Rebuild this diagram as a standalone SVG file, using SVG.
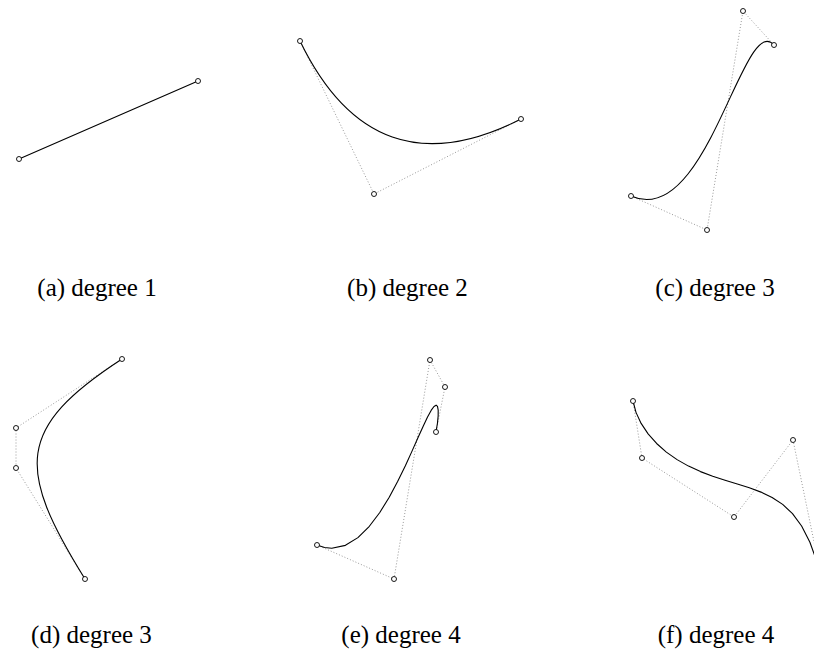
<svg xmlns="http://www.w3.org/2000/svg" width="814" height="652" viewBox="0 0 814 652">
<style>
.curve{fill:none;stroke:#000;stroke-width:1.1;stroke-linejoin:round;stroke-linecap:round}
.ctrl{fill:none;stroke:#999;stroke-width:1;stroke-dasharray:1 2}
.pt{fill:#fff;stroke:#000;stroke-width:0.9}
.lbl{font-family:"Liberation Serif","DejaVu Serif",serif;font-size:25px;fill:#000;text-anchor:middle;font-variant-numeric:oldstyle-nums}
</style>
<rect width="814" height="652" fill="#fff"/>
<g id="panel-a">
<line class="curve" x1="19" y1="159" x2="198" y2="81"/>
<circle class="pt" cx="19" cy="159" r="2.5"/>
<circle class="pt" cx="198" cy="81" r="2.5"/>
<text class="lbl" x="97" y="296">(a) degree 1</text>
</g>
<g id="panel-b">
<polyline class="ctrl" points="300,41 374,194 521,119"/>
<path class="curve" d="M300,41 Q374,194 521,119"/>
<circle class="pt" cx="300" cy="41" r="2.5"/>
<circle class="pt" cx="374" cy="194" r="2.5"/>
<circle class="pt" cx="521" cy="119" r="2.5"/>
<text class="lbl" x="407.5" y="296">(b) degree 2</text>
</g>
<g id="panel-c">
<polyline class="ctrl" points="631,196 707,230 743,11 774,45"/>
<path class="curve" d="M631,196 C707,230 743,11 774,45"/>
<circle class="pt" cx="631" cy="196" r="2.5"/>
<circle class="pt" cx="707" cy="230" r="2.5"/>
<circle class="pt" cx="743" cy="11" r="2.5"/>
<circle class="pt" cx="774" cy="45" r="2.5"/>
<text class="lbl" x="715" y="296">(c) degree 3</text>
</g>
<g id="panel-d">
<polyline class="ctrl" points="122,359 16,428 16,468 85,579"/>
<path class="curve" d="M122,359 C16,428 16,468 85,579"/>
<circle class="pt" cx="122" cy="359" r="2.5"/>
<circle class="pt" cx="16" cy="428" r="2.5"/>
<circle class="pt" cx="16" cy="468" r="2.5"/>
<circle class="pt" cx="85" cy="579" r="2.5"/>
<text class="lbl" x="91.5" y="643">(d) degree 3</text>
</g>
<g id="panel-e">
<polyline class="ctrl" points="317,545 394,579 430,360 445,387 436,432"/>
<polyline class="curve" points="317,545 324.55,547.48 331.79,548.25 345.42,545.34 357.92,537.61 369.36,526.28 379.79,512.47 389.23,497.18 397.75,481.31 405.37,465.65 412.13,450.88 418.06,437.56 423.19,426.16 427.54,417.04 431.13,410.42 433.98,406.46 436.10,405.16 437.50,406.45 438.19,410.14 438.17,415.92 437.44,423.28 436,432"/>
<circle class="pt" cx="317" cy="545" r="2.5"/>
<circle class="pt" cx="394" cy="579" r="2.5"/>
<circle class="pt" cx="430" cy="360" r="2.5"/>
<circle class="pt" cx="445" cy="387" r="2.5"/>
<circle class="pt" cx="436" cy="432" r="2.5"/>
<text class="lbl" x="401" y="643">(e) degree 4</text>
</g>
<g id="panel-f">
<polyline class="ctrl" points="633,401 642,458 734,517 793,440 824,590"/>
<polyline class="curve" points="633,401 635.99,412.36 641.13,423.42 648.10,433.86 656.60,443.47 666.35,452.08 677.07,459.63 688.53,466.12 700.48,471.62 712.73,476.27 725.06,480.31 737.32,484.04 749.34,487.82 761.00,492.11 772.12,497.43 782.66,504.40 792.51,513.67 801.61,525.99 809.91,542.22 817.38,563.23 824,590"/>
<circle class="pt" cx="633" cy="401" r="2.5"/>
<circle class="pt" cx="642" cy="458" r="2.5"/>
<circle class="pt" cx="734" cy="517" r="2.5"/>
<circle class="pt" cx="793" cy="440" r="2.5"/>
<circle class="pt" cx="824" cy="590" r="2.5"/>
<text class="lbl" x="716" y="643">(f) degree 4</text>
</g>
</svg>
